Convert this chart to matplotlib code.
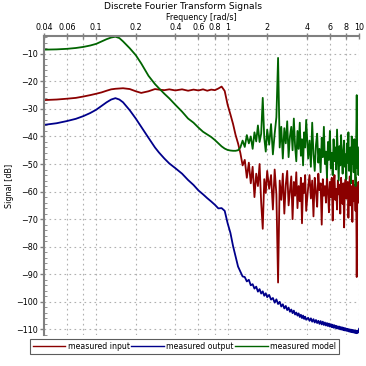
from matplotlib import pyplot as plt
from matplotlib.ticker import MultipleLocator

# frequencies [rad/s]
freq_lo = [0.04, 0.05, 0.06, 0.07, 0.08, 0.09, 0.1, 0.11, 0.12, 0.13, 0.14, 0.15,
           0.16, 0.18, 0.2, 0.22, 0.25, 0.28, 0.3, 0.33, 0.36, 0.4, 0.45, 0.5,
           0.55, 0.6, 0.65, 0.7, 0.75, 0.8, 0.85, 0.9, 0.95, 1.0, 1.05, 1.1, 1.15, 1.2]
freq_hi = [1.25, 1.3, 1.35, 1.4, 1.45, 1.5, 1.55, 1.6, 1.65, 1.7, 1.75, 1.8, 1.85, 1.9, 1.95, 2.0,
           2.07, 2.14, 2.21, 2.28, 2.35, 2.42, 2.49, 2.56, 2.63, 2.7, 2.77, 2.84, 2.91, 2.98,
           3.05, 3.12, 3.19, 3.26, 3.33, 3.4, 3.47, 3.54, 3.61, 3.68, 3.75, 3.82, 3.89, 3.96,
           4.1, 4.2, 4.3, 4.4, 4.5, 4.6, 4.7, 4.8, 4.9, 5.0,
           5.1, 5.2, 5.3, 5.4, 5.5, 5.6, 5.7, 5.8, 5.9, 6.0,
           6.1, 6.2, 6.3, 6.4, 6.5, 6.6, 6.7, 6.8, 6.9, 7.0,
           7.1, 7.2, 7.3, 7.4, 7.5, 7.6, 7.7, 7.8, 7.9, 8.0,
           8.1, 8.2, 8.3, 8.4, 8.5, 8.6, 8.7, 8.8, 8.9, 9.0,
           9.1, 9.2, 9.3, 9.4, 9.5, 9.6, 9.7, 9.8, 9.9, 10.0]

# measured input [dB]
input_lo = [-26.8, -26.6, -26.3, -26.0, -25.5, -25.0, -24.5, -24.0, -23.4, -22.9, -22.7, -22.6,
            -22.5, -22.8, -23.6, -24.2, -23.6, -22.8, -23.0, -23.2, -22.9, -23.3, -22.9, -23.4,
            -23.0, -23.3, -22.9, -23.4, -23.0, -23.2, -22.6, -21.9, -23.5, -28.5, -32.0, -35.5,
            -39.5, -42.5]
input_hi = [-46.0, -50.5, -48.5, -55.0, -49.5, -57.0, -51.0, -62.0, -53.5, -58.0, -50.0, -64.0,
            -73.5, -55.5, -60.5, -52.5,
            -59.0, -54.0, -66.5, -52.0, -61.0, -93.0, -56.0, -63.0, -53.5, -68.0, -57.5, -52.5,
            -65.0, -59.5, -54.5, -70.0, -56.5, -61.5, -53.0, -66.0, -58.0, -63.5, -55.0, -71.5,
            -57.0, -60.5, -54.0, -67.0,
            -58.5, -54.0, -62.5, -56.0, -69.0, -55.0, -60.0, -65.5, -53.5, -59.5,
            -57.0, -72.0, -55.5, -61.5, -58.0, -64.0, -54.5, -60.0, -67.5, -56.5,
            -62.0, -55.0, -70.5, -58.5, -54.0, -63.0, -59.0, -66.5, -56.0, -61.0,
            -57.5, -68.0, -55.0, -60.5, -64.5, -57.0, -73.0, -58.0, -55.5, -62.5,
            -59.5, -56.5, -69.5, -60.0, -54.5, -65.0, -58.0, -61.5, -71.0, -56.0,
            -63.5, -57.5, -60.0, -67.0, -55.0, -91.0, -59.0, -62.0, -56.5, -64.0]

# measured output [dB]
output_lo = [-35.8, -35.2, -34.4, -33.6, -32.6, -31.5, -30.3, -28.9, -27.6, -26.6, -26.1, -26.6,
             -27.6, -30.5, -33.5, -36.5, -40.5, -44.0, -45.8, -48.0, -49.8, -51.5, -53.5, -55.8,
             -57.6, -59.6, -61.0, -62.4, -63.6, -64.8, -66.1, -66.0, -67.0, -71.5, -75.0, -79.8,
             -83.5, -87.2]
output_hi = [-89.0, -90.8, -91.0, -92.6, -92.0, -94.0, -93.6, -95.2, -94.5, -96.3, -95.4, -97.0,
             -96.2, -97.8, -96.9, -98.3,
             -97.5, -99.2, -98.6, -100.3, -99.1, -100.8, -100.0, -101.7, -100.9, -102.4, -101.5,
             -103.0, -102.1, -103.6, -102.8, -104.1, -103.2, -104.6, -103.9, -105.0, -104.2,
             -105.5, -104.7, -105.9, -105.0, -106.2, -105.4, -106.5,
             -105.8, -106.9, -106.0, -107.2, -106.3, -107.5, -106.6, -107.7, -106.9, -108.0,
             -107.0, -108.2, -107.2, -108.4, -107.5, -108.6, -107.7, -108.8, -107.9, -109.0,
             -108.1, -109.2, -108.3, -109.4, -108.5, -109.5, -108.7, -109.7, -108.9, -109.8,
             -109.0, -110.0, -109.2, -110.1, -109.3, -110.3, -109.5, -110.4, -109.6, -110.5,
             -109.8, -110.6, -109.9, -110.8, -110.0, -110.9, -110.1, -111.0, -110.2, -111.1,
             -110.3, -111.2, -110.4, -111.3, -110.5, -111.4, -110.6, -111.2, -110.4, -109.8]

# measured model [dB]
model_lo = [-8.5, -8.4, -8.2, -7.9, -7.5, -7.0, -6.4, -5.5, -4.7, -4.1, -3.8, -4.3,
            -5.5, -8.0, -10.5, -13.5, -18.0, -21.0, -22.5, -24.5, -26.2, -28.5, -31.0, -33.5,
            -35.0, -36.8, -38.3, -39.3, -40.2, -41.3, -42.5, -43.6, -44.4, -44.9, -45.1, -45.2,
            -45.2, -45.0]
model_hi = [-44.0, -41.5, -43.8, -39.5, -42.5, -40.0, -44.5, -38.5, -41.8, -36.0, -42.0, -39.0,
            -26.0, -40.5, -45.5, -37.5,
            -43.0, -35.5, -46.5, -39.0, -33.0, -11.5, -44.0, -36.5, -48.0, -37.0, -42.5, -34.5,
            -47.5, -40.0, -36.5, -45.0, -33.5, -43.5, -49.0, -38.0, -44.5, -35.0, -47.0, -41.0,
            -50.5, -38.5, -44.0, -34.0,
            -48.0, -41.5, -51.0, -35.0, -46.5, -52.5, -43.0, -39.0, -49.5, -44.5,
            -53.0, -40.5, -47.5, -36.5, -50.0, -45.5, -55.0, -42.0, -48.5, -38.0,
            -51.5, -46.0, -54.0, -41.0, -49.0, -44.0, -52.0, -37.5, -47.0, -56.0,
            -43.5, -50.5, -39.5, -48.0, -53.5, -45.0, -41.5, -51.0, -46.5, -55.5,
            -42.5, -49.5, -38.5, -52.5, -47.0, -44.0, -57.0, -40.0, -50.0, -45.5,
            -53.0, -41.0, -48.5, -58.0, -43.5, -25.0, -51.5, -46.0, -54.0, -44.0]

x_ticks = [0.04, 0.06, 0.08, 0.1, 0.2, 0.4, 0.6, 0.8, 1, 2, 4, 6, 8, 10]
x_labels = ["0.04", "0.06", "", "0.1", "0.2", "0.4", "0.6", "0.8", "1", "2", "4", "6", "8", "10"]

freq = freq_lo + freq_hi
signals = [
    ("measured input", input_lo + input_hi, "#8b0000"),
    ("measured output", output_lo + output_hi, "#00008b"),
    ("measured model", model_lo + model_hi, "#006400"),
]

fig = plt.figure(figsize=(3.66, 3.66), dpi=100)
ax = fig.add_axes([0.120, 0.085, 0.861, 0.817])

for label, values, color in signals:
    ax.plot(freq, values, color=color, lw=1.3, label=label)

ax.set_xscale("log")
ax.set_xlim(0.04, 10)
ax.set_ylim(-112, -3.5)

ax.xaxis.tick_top()
ax.xaxis.set_label_position("top")
ax.set_xticks(x_ticks)
ax.set_xticklabels(x_labels)
ax.xaxis.set_minor_locator(plt.NullLocator())
ax.yaxis.set_major_locator(MultipleLocator(10))
ax.yaxis.set_minor_locator(MultipleLocator(2))

grey = "#808080"
for side in ["right", "bottom"]:
    ax.spines[side].set_visible(False)
for side in ["left", "top"]:
    ax.spines[side].set_color(grey)
    ax.spines[side].set_linewidth(1.5)

ax.tick_params(axis="x", which="major", direction="inout", length=5, width=1, color=grey,
               labelsize=5.8, pad=0.5)
ax.tick_params(axis="y", which="major", direction="out", length=3, width=1, color=grey,
               labelsize=5.8, pad=1)
ax.tick_params(axis="y", which="minor", direction="in", length=2, width=0.6, color=grey)

ax.grid(True, which="major", color="#b0b0b0", linestyle=(0, (1.5, 3)), lw=0.8)

ax.set_ylabel("Signal [dB]", fontsize=5.8, labelpad=2)
# texts above the top axis
fig.text(0.55, 0.9525, "Frequency [rad/s]", ha="center", va="center", fontsize=5.8)
fig.text(0.5, 0.994, "Discrete Fourier Transform Signals", ha="center", va="top", fontsize=6.6)

leg = fig.legend(loc="upper center", bbox_to_anchor=(0.504, 0.073), ncol=3, fontsize=5.6,
                 frameon=True, fancybox=False, handlelength=4.2, handletextpad=0.3,
                 columnspacing=0.2, borderpad=0.35, borderaxespad=0)
leg.get_frame().set_edgecolor("#333333")
leg.get_frame().set_linewidth(0.8)
for line in leg.get_lines():
    line.set_linewidth(1.0)

fig.savefig("out.png", dpi=100)
